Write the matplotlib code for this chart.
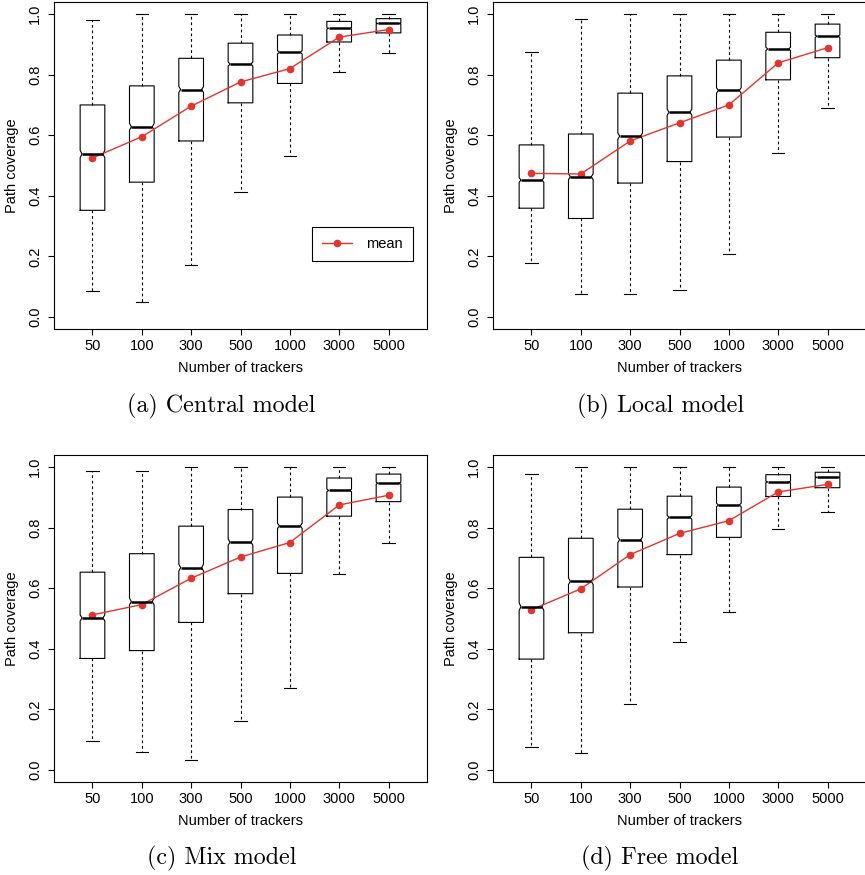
import numpy as np
import matplotlib.pyplot as plt

plt.rcParams['font.family'] = ['Liberation Sans', 'DejaVu Sans']
plt.rcParams['font.size'] = 10.5

trackers = ['50', '100', '300', '500', '1000', '3000', '5000']

# stats per model, one list per quantity
central_lo = [0.085, 0.050, 0.173, 0.411, 0.533, 0.809, 0.871]
central_q1 = [0.352, 0.445, 0.581, 0.707, 0.771, 0.908, 0.938]
central_med = [0.538, 0.628, 0.751, 0.835, 0.874, 0.953, 0.969]
central_q3 = [0.700, 0.763, 0.854, 0.904, 0.931, 0.976, 0.985]
central_hi = [0.982, 1.000, 1.000, 1.000, 1.000, 1.000, 1.000]
central_mean = [0.525, 0.595, 0.696, 0.776, 0.820, 0.924, 0.949]

local_lo = [0.178, 0.077, 0.077, 0.089, 0.209, 0.542, 0.689]
local_q1 = [0.359, 0.325, 0.442, 0.513, 0.594, 0.783, 0.856]
local_med = [0.452, 0.463, 0.597, 0.676, 0.748, 0.885, 0.927]
local_q3 = [0.568, 0.604, 0.739, 0.796, 0.848, 0.940, 0.967]
local_hi = [0.875, 0.985, 1.000, 1.000, 1.000, 1.000, 1.000]
local_mean = [0.474, 0.472, 0.581, 0.641, 0.700, 0.839, 0.889]

mix_lo = [0.095, 0.058, 0.033, 0.163, 0.272, 0.648, 0.750]
mix_q1 = [0.368, 0.394, 0.487, 0.582, 0.649, 0.838, 0.886]
mix_med = [0.502, 0.556, 0.668, 0.752, 0.806, 0.923, 0.947]
mix_q3 = [0.653, 0.714, 0.805, 0.860, 0.901, 0.964, 0.977]
mix_hi = [0.986, 0.987, 1.000, 1.000, 1.000, 1.000, 1.000]
mix_mean = [0.512, 0.546, 0.633, 0.703, 0.751, 0.875, 0.907]

free_lo = [0.077, 0.056, 0.217, 0.421, 0.520, 0.795, 0.853]
free_q1 = [0.366, 0.453, 0.604, 0.711, 0.768, 0.903, 0.932]
free_med = [0.539, 0.623, 0.760, 0.834, 0.875, 0.951, 0.966]
free_q3 = [0.702, 0.765, 0.861, 0.904, 0.934, 0.975, 0.983]
free_hi = [0.976, 1.000, 1.000, 1.000, 1.000, 1.000, 1.000]
free_mean = [0.529, 0.598, 0.711, 0.781, 0.823, 0.918, 0.943]

n_runs = 2000  # sample size used for the notches
captions = ['(a) Central model', '(b) Local model', '(c) Mix model', '(d) Free model']

panels = [
    (central_lo, central_q1, central_med, central_q3, central_hi, central_mean),
    (local_lo, local_q1, local_med, local_q3, local_hi, local_mean),
    (mix_lo, mix_q1, mix_med, mix_q3, mix_hi, mix_mean),
    (free_lo, free_q1, free_med, free_q3, free_hi, free_mean),
]

W, H = 865, 875
fig = plt.figure(figsize=(W / 100, H / 100), dpi=100)

# axes boxes in pixels: left, top, right, bottom
boxes_px = [(54, 2, 427, 329), (493, 2, 866, 329),
            (54, 455, 427, 782), (493, 455, 866, 782)]
cap_px = [(221, 406), (661, 406), (222, 858), (660, 858)]

red = '#e3352c'
wid = 0.5
nfrac = 0.85

for k in range(4):
    lo, q1, med, q3, hi, mean = panels[k]
    l, t, r, b = boxes_px[k]
    ax = fig.add_axes([l / W, 1 - b / H, (r - l) / W, (b - t) / H])

    stats = []
    for i in range(len(trackers)):
        ci = 1.58 * (q3[i] - q1[i]) / np.sqrt(n_runs)
        stats.append(dict(whislo=lo[i], q1=q1[i], med=med[i], q3=q3[i],
                          whishi=hi[i], cilo=med[i] - ci, cihi=med[i] + ci,
                          fliers=[]))
    pos = np.arange(1, len(trackers) + 1)
    bp = ax.bxp(stats, positions=pos, widths=wid, shownotches=True,
                showfliers=False,
                boxprops=dict(color='black', linewidth=0.8),
                medianprops=dict(color='black', linewidth=1.8, solid_capstyle='butt'),
                whiskerprops=dict(color='black', linewidth=0.8, linestyle=(0, (2.5, 2.5))),
                capprops=dict(color='black', linewidth=0.8))
    # R-like shallow notch
    for p, box, mline in zip(pos, bp['boxes'], bp['medians']):
        xs = box.get_xdata()
        xs[3] = p + wid / 2 * nfrac
        xs[8] = p - wid / 2 * nfrac
        box.set_xdata(xs)
        mline.set_xdata([p - wid / 2 * nfrac, p + wid / 2 * nfrac])

    ax.plot(pos, mean, '-o', color=red, linewidth=1, markersize=4.5, label='mean')

    ax.set_xlim(0.22, 7.78)
    ax.set_ylim(-0.04, 1.04)
    ax.set_xticks(pos)
    ax.set_xticklabels(trackers)
    ax.set_yticks([0.0, 0.2, 0.4, 0.6, 0.8, 1.0])
    ax.set_yticklabels(['0.0', '0.2', '0.4', '0.6', '0.8', '1.0'])
    ax.tick_params(axis='both', direction='out', length=4.5, width=0.8, colors='black')
    ax.tick_params(axis='x', pad=2.5)
    ax.tick_params(axis='y', labelrotation=90, pad=4)
    for lab in ax.get_yticklabels():
        lab.set_va('center')
    for s in ax.spines.values():
        s.set_linewidth(0.8)

    ax.set_xlabel('Number of trackers')
    ax.set_ylabel('Path coverage')
    ax.xaxis.label.set_va('center')
    ax.yaxis.label.set_va('center')
    ax.xaxis.set_label_coords(0.5, -39 / (b - t))
    ax.yaxis.set_label_coords(-42 / (r - l), 0.5)

    if k == 0:
        leg = ax.legend(loc='lower right', bbox_to_anchor=(0.9625, 0.208),
                        borderaxespad=0, fancybox=False, framealpha=1,
                        edgecolor='black', handlelength=2, handletextpad=1.0,
                        borderpad=0.7)
        leg.get_frame().set_linewidth(0.8)

    cx, cy = cap_px[k]
    fig.text(cx / W, 1 - cy / H, captions[k], family='cmr10', fontsize=17.3,
             ha='center', va='center')

fig.savefig('out.png', dpi=100)
